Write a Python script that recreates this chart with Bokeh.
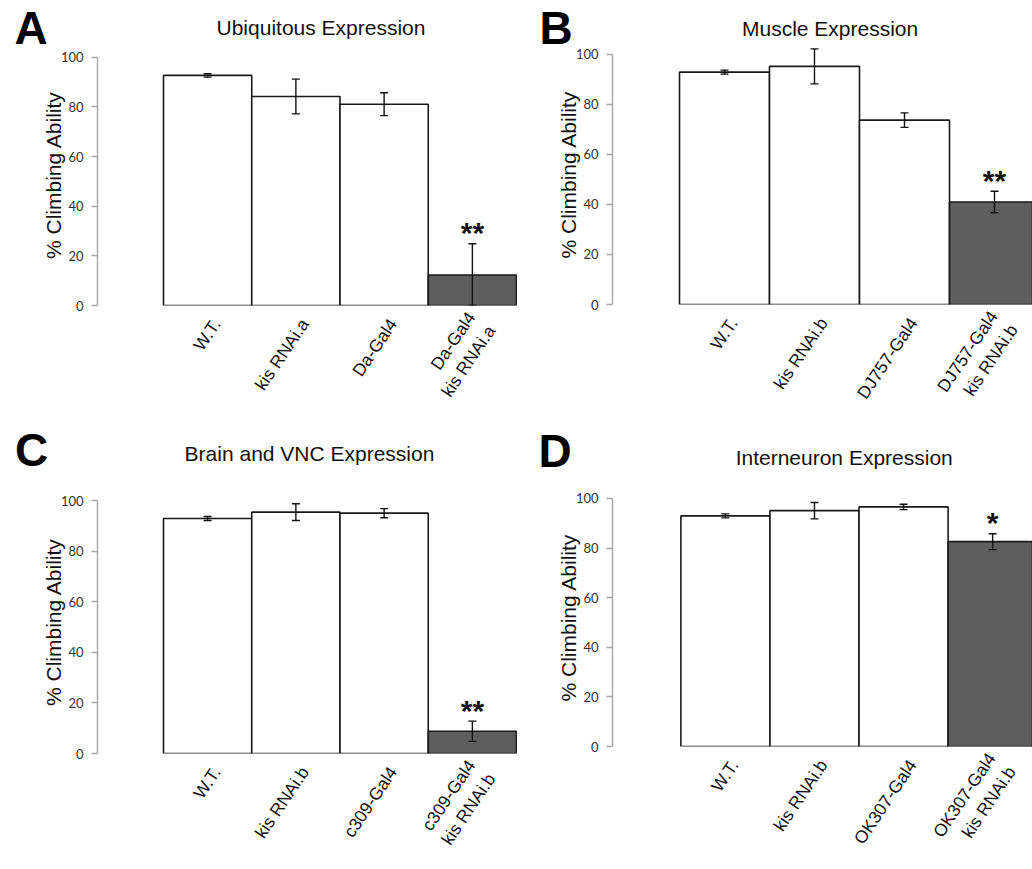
import math
from bokeh.plotting import figure
from bokeh.models import Range1d, FixedTicker, Label, ColumnDataSource, Whisker, TeeHead
from bokeh.layouts import row, column
from bokeh.embed import file_html
from bokeh.resources import INLINE
from bokeh.core.properties import value

# ---------------- data ----------------
a_title = "Ubiquitous Expression"
a_cats = ["W.T.", "kis RNAi.a", "Da-Gal4", "Da-Gal4\nkis RNAi.a"]
a_vals = [92.7, 84.2, 81.1, 12.3]
a_errs = [0.7, 7.0, 4.6, 12.6]
a_sig = ["", "", "", "**"]

b_title = "Muscle Expression"
b_cats = ["W.T.", "kis RNAi.b", "DJ757-Gal4", "DJ757-Gal4\nkis RNAi.b"]
b_vals = [92.9, 95.2, 73.7, 41.0]
b_errs = [0.8, 7.0, 2.9, 4.3]
b_sig = ["", "", "", "**"]

c_title = "Brain and VNC Expression"
c_cats = ["W.T.", "kis RNAi.b", "c309-Gal4", "c309-Gal4\nkis RNAi.b"]
c_vals = [92.9, 95.4, 95.0, 8.8]
c_errs = [0.8, 3.3, 1.8, 4.0]
c_sig = ["", "", "", "**"]

d_title = "Interneuron Expression"
d_cats = ["W.T.", "kis RNAi.b", "OK307-Gal4", "OK307-Gal4\nkis RNAi.b"]
d_vals = [93.0, 95.1, 96.6, 82.6]
d_errs = [0.8, 3.3, 1.1, 3.2]
d_sig = ["", "", "", "*"]

y_ticks = [0, 20, 40, 60, 80, 100]
y_label = "% Climbing Ability"

# ---------------- styling / geometry ----------------
FILLS = ["white", "white", "white", "#5e5e5e"]
SANS = "Liberation Sans"
LABEL_SHIFT = 0.1      # tick labels sit a little right of bar centres
TITLE_DY = 7.5
LETTER_DY = 18

GEOM = {
    "A": dict(w=517, h=415, axis=97, bar0=163, ppx=88.25, right=517, y0=309, ppy=2.52, top=44,
              tx=320.5, ty=34, lx=9, ly=49),
    "B": dict(w=515, h=424, axis=95, bar0=162, ppx=90.0, right=515, y0=308, ppy=2.54, top=44,
              tx=312.6, ty=35, lx=19, ly=49),
    "C": dict(w=517, h=454, axis=97, bar0=163, ppx=88.25, right=517, y0=338, ppy=2.53, top=75,
              tx=309, ty=45.7, lx=9.5, ly=52),
    "D": dict(w=515, h=445, axis=93, bar0=161.7, ppx=89.5, right=515, y0=330, ppy=2.557, top=64,
              tx=324.7, ty=40, lx=18, ly=52),
}


def make_panel(letter, title, cats, vals, errs, sig):
    g = GEOM[letter]
    W, H = g["w"], g["h"]
    ppx, ppy = g["ppx"], g["ppy"]
    x_start = -0.5 - (g["bar0"] - g["axis"]) / ppx
    x_end = -0.5 + (g["right"] - g["bar0"]) / ppx
    y_end = (g["y0"] - g["top"]) / ppy

    p = figure(width=W, height=H,
               x_range=Range1d(x_start, x_end), y_range=Range1d(0, y_end),
               output_backend="svg", toolbar_location=None,
               min_border_left=g["axis"], min_border_right=W - g["right"],
               min_border_top=g["top"], min_border_bottom=H - g["y0"],
               outline_line_color=None)
    p.xgrid.visible = False
    p.ygrid.visible = False

    n = len(vals)
    xs = list(range(n))
    upper = [v + e for v, e in zip(vals, errs)]
    lower = [max(0.0, v - e) for v, e in zip(vals, errs)]
    src = ColumnDataSource(dict(x=xs, top=vals, upper=upper, lower=lower,
                                fill=FILLS[:n], sig=sig))

    p.vbar(x="x", top="top", bottom=0, width=1.0, source=src,
           fill_color="fill", line_color="#1a1a1a", line_width=1.6)

    wh = Whisker(base="x", upper="upper", lower="lower", source=src,
                 dimension="height", line_color="#111111", line_width=1.4, level="overlay",
                 upper_head=TeeHead(size=8, line_color="#111111", line_width=1.4),
                 lower_head=TeeHead(size=8, line_color="#111111", line_width=1.4))
    p.add_layout(wh)

    p.text(x="x", y="upper", text="sig", source=src, text_align="center",
           text_baseline="alphabetic", text_font=value(SANS), text_font_style="bold",
           text_font_size="30px", text_color="#111111", y_offset=-11)

    # y axis
    ya = p.yaxis[0]
    ya.ticker = FixedTicker(ticks=y_ticks)
    ya.bounds = (0, 100)
    ya.axis_line_color = "#a8a8a8"
    ya.axis_line_width = 1.5
    ya.major_tick_line_color = "#a8a8a8"
    ya.major_tick_line_width = 1.5
    ya.major_tick_out = 6
    ya.major_tick_in = 0
    ya.minor_tick_line_color = None
    ya.major_label_text_font = "Lato"
    ya.major_label_text_font_size = "13px"
    ya.major_label_text_color = "#333333"
    ya.major_label_standoff = 8
    ya.axis_label = y_label
    ya.axis_label_text_font = SANS
    ya.axis_label_text_font_style = "normal"
    ya.axis_label_text_font_size = "21px"
    ya.axis_label_text_color = "#111111"
    ya.axis_label_standoff = -7

    # x axis
    xa = p.xaxis[0]
    tick_pos = [i + LABEL_SHIFT for i in xs]
    xa.ticker = FixedTicker(ticks=tick_pos)
    xa.major_label_overrides = {t: c for t, c in zip(tick_pos, cats)}
    xa.major_label_orientation = 56 * math.pi / 180
    xa.axis_line_color = None
    xa.major_tick_line_color = None
    xa.minor_tick_line_color = None
    xa.major_label_text_font = SANS
    xa.major_label_text_font_size = "17.5px"
    xa.major_label_text_color = "#111111"
    xa.major_label_standoff = 9

    fl, ft, fb = g["axis"], g["top"], g["y0"]
    t_lab = Label(x=g["tx"] - fl, y=ft - g["ty"] + TITLE_DY, x_units="screen", y_units="screen",
                  text=title, text_align="center", text_baseline="alphabetic",
                  text_font=SANS, text_font_size="21px", text_color="#111111")
    l_lab = Label(x=g["lx"], y=fb - g["ly"] + LETTER_DY, x_units="screen", y_units="screen",
                  text=letter, text_align="left", text_baseline="alphabetic",
                  text_font=SANS, text_font_style="bold",
                  text_font_size="46px", text_color="black")
    p.add_layout(t_lab, "above")
    p.add_layout(l_lab, "left")
    return p


pa = make_panel("A", a_title, a_cats, a_vals, a_errs, a_sig)
pb = make_panel("B", b_title, b_cats, b_vals, b_errs, b_sig)
pc = make_panel("C", c_title, c_cats, c_vals, c_errs, c_sig)
pd = make_panel("D", d_title, d_cats, d_vals, d_errs, d_sig)

layout = row(column(pa, pc), column(pb, pd))

with open("out.html", "w") as f:
    f.write(file_html(layout, INLINE))
